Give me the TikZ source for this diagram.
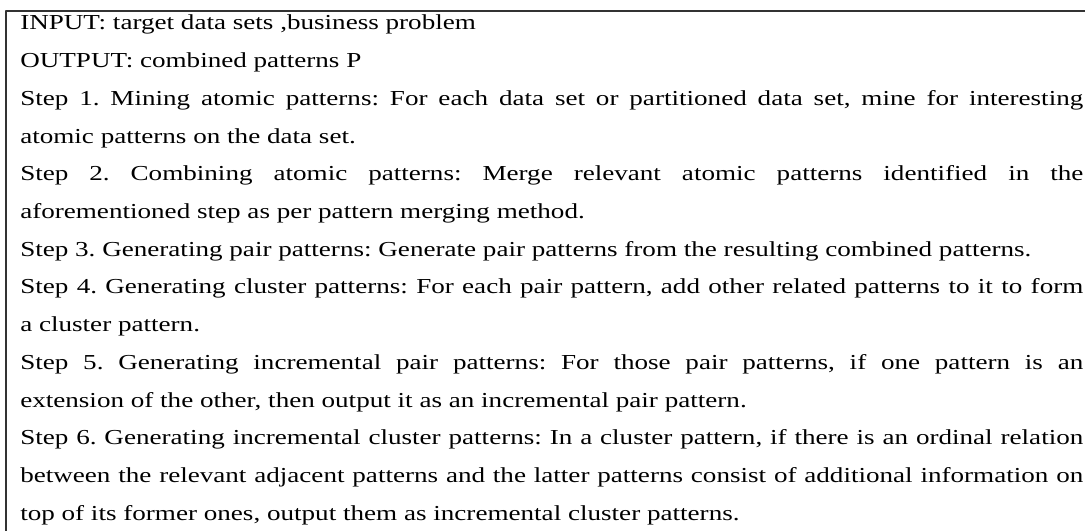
\documentclass[tikz,border=0pt]{standalone}
\usepackage{fontspec}
\setmainfont[FakeStretch=1.27]{Liberation Serif}
\frenchspacing
\newcommand{\justline}[1]{\makebox[797.25pt][s]{#1}}

\begin{document}
\begin{tikzpicture}[x=0.75pt,y=0.75pt,line join=round,line cap=round,
		font=\fontsize{16}{20}\selectfont,
		txt/.style={anchor=base west,inner sep=0pt,text=black}]
	\useasboundingbox (0,0) rectangle (1085,-531);
	\draw[line width=1.5pt,black!80] (6,-531) -- (6,-11) -- (1085,-11);
	% input / output
	\node[txt] (inp) at (20,-30) {INPUT: target data sets ,business problem};
	\node[txt] (outp) at (20,-67.7) {OUTPUT: combined patterns P};
	% steps
	\node[txt] (s1a) at (20,-105.4) {\justline{Step 1. Mining atomic patterns: For each data set or partitioned data set, mine for interesting}};
	\node[txt] (s1b) at (20,-143.1) {atomic patterns on the data set.};
	\node[txt] (s2a) at (20,-180.8) {\justline{Step 2. Combining atomic patterns: Merge relevant atomic patterns identified in the}};
	\node[txt] (s2b) at (20,-218.5) {aforementioned step as per pattern merging method.};
	\node[txt] (s3a) at (20,-256.2) {Step 3. Generating pair patterns: Generate pair patterns from the resulting combined patterns.};
	\node[txt] (s4a) at (20,-293.9) {\justline{Step 4. Generating cluster patterns: For each pair pattern, add other related patterns to it to form}};
	\node[txt] (s4b) at (20,-331.6) {a cluster pattern.};
	\node[txt] (s5a) at (20,-369.3) {\justline{Step 5. Generating incremental pair patterns: For those pair patterns, if one pattern is an}};
	\node[txt] (s5b) at (20,-407) {extension of the other, then output it as an incremental pair pattern.};
	\node[txt] (s6a) at (20,-444.7) {\justline{Step 6. Generating incremental cluster patterns: In a cluster pattern, if there is an ordinal relation}};
	\node[txt] (s6b) at (20,-482.4) {\justline{between the relevant adjacent patterns and the latter patterns consist of additional information on}};
	\node[txt] (s6c) at (20,-520.1) {top of its former ones, output them as incremental cluster patterns.};
\end{tikzpicture}
\end{document}
